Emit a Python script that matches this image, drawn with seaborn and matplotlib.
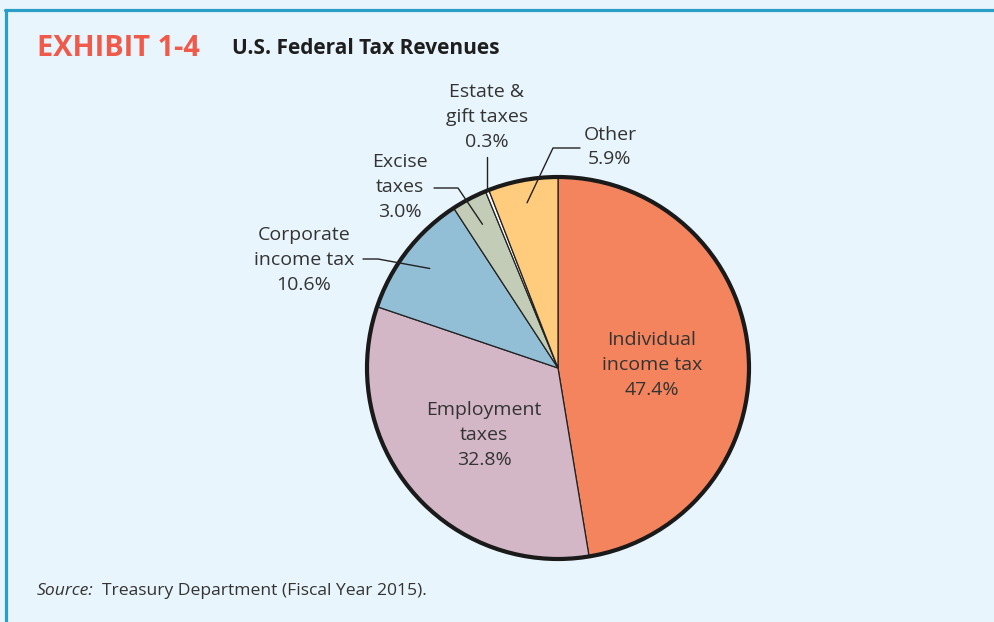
import numpy as np
import matplotlib.pyplot as plt
import seaborn as sns
from matplotlib.patches import Circle

# data (share of federal tax revenue, FY2015)
labels = ["Individual\nincome tax", "Employment\ntaxes", "Corporate\nincome tax",
          "Excise\ntaxes", "Estate &\ngift taxes", "Other"]
shares = [47.4, 32.8, 10.6, 3.0, 0.3, 5.9]
colors = ["#F4845E", "#D4B7C6", "#92BED6", "#C3CCB6", "#FFFFFF", "#FFCC7E"]

sns.set_theme(style="white")
plt.rcParams['font.family'] = ['Open Sans', 'DejaVu Sans']

bg = "#E9F5FC"
txt = "#333333"
W, H = 995, 622
fig = plt.figure(figsize=(9.95, 6.22), dpi=100)
fig.patch.set_facecolor(bg)

# frame lines (top + left)
fig.add_artist(plt.Line2D([5 / W, 1], [1 - 9.5 / H] * 2, color="#2A9FC6", lw=2.3))
fig.add_artist(plt.Line2D([5.5 / W] * 2, [0, 1 - 9.5 / H], color="#2A9FC6", lw=2.3))

# title
fig.text(37 / W, 1 - 48 / H, "EXHIBIT 1-4", color="#EF5A4B", fontsize=20.8, fontweight="bold",
         va="center", ha="left")
fig.text(232 / W, 1 - 49 / H, "U.S. Federal Tax Revenues", color="#1E1E1E", fontsize=15,
         fontweight="bold", va="center", ha="left")

# pie axes: center (558, 368), radius 191 px
cx, cy, R = 558, 368, 191
ax = fig.add_axes([(cx - R) / W, (H - cy - R) / H, 2 * R / W, 2 * R / H])
ax.set_facecolor("none")
wedges, _ = ax.pie(shares, colors=colors, startangle=90, counterclock=False,
                   wedgeprops=dict(edgecolor="#222222", linewidth=0.9, clip_on=False), radius=1)
ax.add_patch(Circle((0, 0), 1.0, fill=False, edgecolor="#1A1A1A", lw=3.0, clip_on=False))
ax.set_xlim(-1, 1)
ax.set_ylim(-1, 1)
ax.set_aspect("equal")
ax.axis("off")

pct = [f"{s:.1f}%" for s in shares]
fs = 14
ls = 1.48

# labels inside
ax.text((652 - cx) / R, (cy - 365) / R, f"{labels[0]}\n{pct[0]}", ha="center", va="center",
        fontsize=fs, color=txt, linespacing=ls)
ax.text((484 - cx) / R, (cy - 435) / R, f"{labels[1]}\n{pct[1]}", ha="center", va="center",
        fontsize=fs, color=txt, linespacing=ls)


def mid_point(w, r):
    a = np.deg2rad((w.theta1 + w.theta2) / 2)
    return r * np.cos(a), r * np.sin(a)


# outside labels: (wedge idx, radius of line start, elbow px, end px, text center px)
outside = [
    (2, 0.85, (378, 259), (363, 259), (304, 260)),
    (3, 0.85, (458, 188), (434, 188), (400, 187)),
    (4, 1.0, (485, 157), None, (487, 117)),
    (5, 0.88, (553, 148), (580, 148), (610, 147)),
]
for i, r, elbow, end, tpos in outside:
    x0, y0 = mid_point(wedges[i], r)
    xs = [x0, (elbow[0] - cx) / R]
    ys = [y0, (cy - elbow[1]) / R]
    if i == 4:
        xs = [x0, x0]
    if end is not None:
        xs.append((end[0] - cx) / R)
        ys.append((cy - end[1]) / R)
    ax.plot(xs, ys, color="#222222", lw=1.0, clip_on=False)
    ax.text((tpos[0] - cx) / R, (cy - tpos[1]) / R, f"{labels[i]}\n{pct[i]}", ha="center",
            va="center", fontsize=fs, color=txt, linespacing=ls, clip_on=False)

# source note
fig.text(37 / W, 1 - 591 / H, "Source:", fontsize=12.6, style="italic", color=txt,
         va="center", ha="left")
fig.text(102 / W, 1 - 591 / H, "Treasury Department (Fiscal Year 2015).", fontsize=12.6,
         color=txt, va="center", ha="left")

fig.savefig("out.png", dpi=100, facecolor=bg)
